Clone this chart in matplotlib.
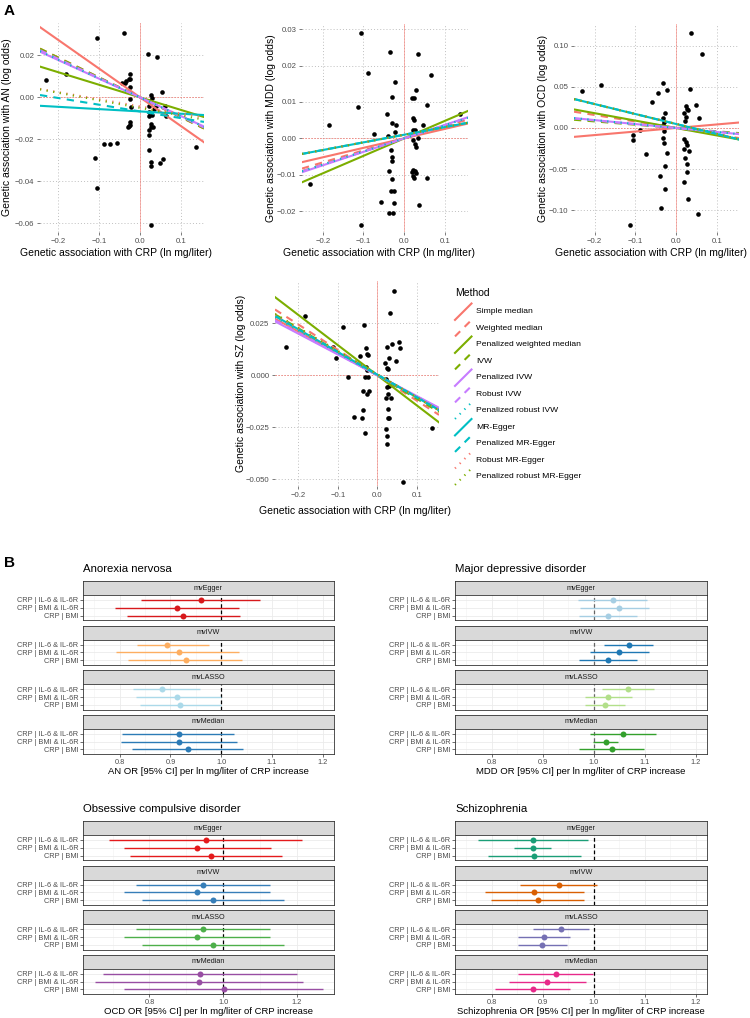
import matplotlib
matplotlib.use("Agg")
import matplotlib.pyplot as plt
import numpy as np
from matplotlib.lines import Line2D

plt.rcParams['font.family'] = ['Liberation Sans', 'DejaVu Sans']
plt.rcParams['axes.unicode_minus'] = True

# ------------------------------------------------------------------ DATA
methods = ["Simple median", "Weighted median", "Penalized weighted median", "IVW",
           "Penalized IVW", "Robust IVW", "Penalized robust IVW", "MR-Egger",
           "Penalized MR-Egger", "Robust MR-Egger", "Penalized robust MR-Egger"]
method_colors = ["#F8766D", "#F8766D", "#7CAE00", "#7CAE00", "#C77CFF", "#C77CFF",
                 "#00BFC4", "#00BFC4", "#00BFC4", "#F8766D", "#7CAE00"]
method_styles = ["solid", "dashed", "solid", "dashed", "solid", "dashed",
                 "dotted", "solid", "dashed", "dotted", "dotted"]

# AN
an_x = [-0.104, -0.039, -0.229, -0.181, 0.019, 0.041, 0.054, -0.043, -0.037, -0.034, -0.028,
        -0.025, -0.025, -0.024, -0.024, -0.021, -0.030, -0.025, -0.024, -0.028, 0.027, 0.028,
        0.024, 0.023, 0.023, 0.029, 0.022, 0.026, 0.027, 0.032, 0.023, 0.023, 0.023, 0.026,
        0.026, 0.048, 0.057, 0.034, 0.039, 0.061, 0.063, -0.111, -0.105, -0.087, -0.073,
        -0.057, 0.137, 0.026]
an_y = [0.0281, 0.0305, 0.0081, 0.0112, 0.0206, 0.0193, 0.0027, 0.0070, 0.0067, 0.0078, 0.0087,
        0.0111, 0.0086, 0.0048, -0.0007, -0.0045, -0.0140, -0.0116, -0.0133, -0.0137, 0.0011, -0.0005,
        -0.0018, -0.0043, -0.0071, -0.0084, -0.0088, -0.0127, -0.0140, -0.0140, -0.0156, -0.0178, -0.0251, -0.0310,
        -0.0329, -0.0311, -0.0292, -0.0056, -0.0041, -0.0041, -0.0089, -0.0288, -0.0430, -0.0222, -0.0222,
        -0.0219, -0.0235, -0.0608]
an_slope = [-0.137, -0.095, -0.060, -0.095, -0.089, -0.092, -0.090, -0.011, -0.032, -0.034, -0.036]
an_int = [0, 0, 0, 0, 0, 0, 0, -0.0067, -0.0067, -0.0043, -0.0050]

# MDD
mdd_x = [-0.106, -0.034, -0.088, -0.023, 0.033, 0.065, 0.029, -0.029, 0.019, 0.025, -0.113,
         0.057, -0.043, -0.184, -0.030, -0.021, 0.047, 0.137, -0.074, -0.039, -0.023, 0.022,
         0.025, 0.021, 0.027, 0.034, 0.022, 0.026, 0.028, -0.032, -0.029, -0.031, -0.037,
         0.021, 0.027, 0.028, 0.019, 0.021, 0.025, 0.055, -0.232, -0.029, -0.033, -0.025,
         -0.058, -0.025, -0.037, -0.027, 0.037, -0.106]
mdd_y = [0.0288, 0.0236, 0.0180, 0.0154, 0.0231, 0.0175, 0.0133, 0.0114, 0.0112, 0.0110, 0.0087,
         0.0093, 0.0066, 0.0037, 0.0043, 0.0038, 0.0037, 0.0067, 0.0013, 0.0006, 0.0018, 0.0055,
         0.0050, 0.0023, 0.0023, 0.0002, -0.0005, -0.0016, -0.0023, -0.0032, -0.0050, -0.0062, -0.0090,
         -0.0087, -0.0089, -0.0096, -0.0093, -0.0103, -0.0108, -0.0110, -0.0126, -0.0112, -0.0144, -0.0144,
         -0.0176, -0.0178, -0.0204, -0.0204, -0.0184, -0.0238]
mdd_slope = [0.026, 0.033, 0.048, 0.036, 0.037, 0.036, 0.036, 0.021, 0.021, 0.021, 0.021]
mdd_int = [0, 0, 0, 0, 0, 0, 0, 0.001, 0.001, 0.001, 0.001]

# OCD
ocd_x = [-0.232, -0.185, -0.106, -0.106, -0.089, -0.075, -0.058, -0.044, -0.032, -0.023, -0.027,
         -0.031, -0.029, -0.033, -0.029, -0.031, -0.029, -0.023, -0.027, -0.039, -0.027, -0.037,
         -0.113, 0.036, 0.065, 0.034, 0.048, 0.057, 0.025, 0.026, 0.030, 0.020, 0.024, 0.022,
         0.020, 0.024, 0.026, 0.020, 0.031, 0.022, 0.026, 0.026, 0.020, 0.029, 0.055]
ocd_y = [0.0454, 0.0519, -0.0085, -0.0146, -0.0024, -0.0320, 0.0320, 0.0422, 0.0543, 0.0462, 0.0186,
         0.0118, 0.0077, 0.0036, -0.0032, -0.0126, -0.0178, -0.0308, -0.0462, -0.0584, -0.0742, -0.0977,
         -0.1180, 0.1152, 0.0896, 0.0479, 0.0280, 0.0125, 0.0268, 0.0227, 0.0219, 0.0186, 0.0130, 0.0089,
         -0.0138, -0.0166, -0.0207, -0.0259, -0.0280, -0.0361, -0.0438, -0.0539, -0.0661, -0.0864, -0.1050]
ocd_slope = [0.043, -0.079, -0.090, -0.040, -0.048, -0.046, -0.048, -0.121, -0.121, -0.120, -0.120]
ocd_int = [0, 0, 0, 0, 0, 0, 0, 0.0049, 0.0049, 0.0050, 0.0050]

# SZ
sz_x = [-0.231, -0.182, -0.088, -0.113, -0.105, -0.074, -0.034, -0.029, -0.027, -0.043, -0.023,
        -0.029, -0.027, -0.030, -0.023, -0.037, -0.020, -0.025, -0.036, -0.039, -0.058, -0.032,
        0.041, 0.031, 0.025, 0.036, 0.056, 0.057, 0.030, 0.048, 0.019, 0.025, 0.028, 0.021,
        0.024, 0.030, 0.027, 0.035, 0.021, 0.026, 0.027, 0.029, 0.023, 0.024, 0.025, 0.138, 0.066]
sz_y = [0.0138, 0.0285, 0.0234, 0.0138, 0.0085, -0.0007, 0.0242, 0.0130, 0.0102, 0.0094, 0.0097,
        0.0041, 0.0025, -0.0007, -0.0010, -0.0075, -0.0075, -0.0091, -0.0167, -0.0204, -0.0199, -0.0276,
        0.0407, 0.0298, 0.0138, 0.0149, 0.0159, 0.0130, 0.0082, 0.0069, 0.0058, 0.0037, 0.0029, -0.0019,
        -0.0055, -0.0050, -0.0091, -0.0111, -0.0111, -0.0163, -0.0207, -0.0207, -0.0258, -0.0290, -0.0330, -0.0252, -0.0514]
sz_slope = [-0.105, -0.122, -0.145, -0.113, -0.100, -0.102, -0.108, -0.109, -0.109, -0.110, -0.112]
sz_int = [0, 0, 0, 0, 0, 0, 0, 0.0003, 0.0003, 0.0005, 0.0005]

scatter_xticks = [-0.2, -0.1, 0.0, 0.1]
scatter_xticklabels = ["\u22120.2", "\u22120.1", "0.0", "0.1"]
an_yticks = [0.02, 0.0, -0.02, -0.04, -0.06]
an_yticklabels = ["0.02", "0.00", "\u22120.02", "\u22120.04", "\u22120.06"]
mdd_yticks = [0.03, 0.02, 0.01, 0.0, -0.01, -0.02]
mdd_yticklabels = ["0.03", "0.02", "0.01", "0.00", "\u22120.01", "\u22120.02"]
ocd_yticks = [0.10, 0.05, 0.0, -0.05, -0.10]
ocd_yticklabels = ["0.10", "0.05", "0.00", "\u22120.05", "\u22120.10"]
sz_yticks = [0.025, 0.0, -0.025, -0.050]
sz_yticklabels = ["0.025", "0.000", "\u22120.025", "\u22120.050"]

# Forest plots (rows: CRP | IL-6 & IL-6R, CRP | BMI & IL-6R, CRP | BMI)
facets = ["mvEgger", "mvIVW", "mvLASSO", "mvMedian"]
row_labels = ["CRP | IL-6 & IL-6R", "CRP | BMI & IL-6R", "CRP | BMI"]

an_est = [[0.960, 0.913, 0.925], [0.893, 0.916, 0.930], [0.883, 0.914, 0.919], [0.916, 0.916, 0.934]]
an_lo = [[0.842, 0.791, 0.814], [0.834, 0.793, 0.816], [0.826, 0.833, 0.841], [0.805, 0.803, 0.824]]
an_hi = [[1.076, 1.035, 1.036], [0.976, 1.035, 1.040], [0.959, 0.999, 0.999], [1.025, 1.032, 1.043]]
an_colors = ["#D7191C", "#FDAE61", "#ABD9E9", "#2C7BB6"]

mdd_est = [[1.037, 1.050, 1.027], [1.068, 1.050, 1.027], [1.066, 1.027, 1.021], [1.057, 1.024, 1.035]]
mdd_lo = [[0.969, 0.973, 0.971], [1.019, 0.992, 0.970], [1.016, 0.982, 0.982], [0.993, 0.999, 0.971]]
mdd_hi = [[1.105, 1.108, 1.084], [1.116, 1.109, 1.084], [1.117, 1.075, 1.061], [1.122, 1.047, 1.099]]
mdd_colors = ["#A6CEE3", "#1F78B4", "#B2DF8A", "#33A02C"]

ocd_est = [[0.952, 0.929, 0.966], [0.946, 0.930, 0.973], [0.946, 0.930, 0.973], [0.937, 0.933, 1.001]]
ocd_lo = [[0.690, 0.730, 0.747], [0.764, 0.732, 0.781], [0.764, 0.732, 0.781], [0.673, 0.652, 0.730]]
ocd_hi = [[1.213, 1.130, 1.160], [1.128, 1.128, 1.165], [1.128, 1.128, 1.165], [1.201, 1.216, 1.271]]
ocd_colors = ["#E41A1C", "#377EB8", "#4DAF4A", "#984EA3"]

sz_est = [[0.880, 0.880, 0.883], [0.931, 0.883, 0.890], [0.935, 0.903, 0.899], [0.926, 0.908, 0.880]]
sz_lo = [[0.772, 0.844, 0.792], [0.856, 0.786, 0.799], [0.880, 0.852, 0.851], [0.852, 0.833, 0.805]]
sz_hi = [[0.988, 0.916, 0.975], [1.007, 0.981, 0.981], [0.990, 0.954, 0.948], [0.999, 0.984, 0.954]]
sz_colors = ["#1B9E77", "#D95F02", "#7570B3", "#E7298A"]

# ------------------------------------------------------------------ FIGURE
W, H = 750, 1018
fig = plt.figure(figsize=(W / 100, H / 100), dpi=100)


def px_axes(l, t, r, b, **kw):
    return fig.add_axes([l / W, 1 - b / H, (r - l) / W, (b - t) / H], **kw)


def ftext(x, y, s, **kw):
    return fig.text(x / W, 1 - y / H, s, **kw)


def lsty(name):
    if name == "dashed":
        return (0, (3.5, 3.0))
    if name == "dotted":
        return (0, (0.6, 2.6))
    return "solid"


GREY30 = "#4D4D4D"


def scatter_panel(box, x, y, slopes, ints, xlim, ylim, yticks, yticklabels, ylabel,
                  ylab_px, xlab_cx, xlab_cy):
    l, t, r, b = box
    ax = px_axes(l, t, r, b)
    ax.set_xlim(xlim)
    ax.set_ylim(ylim)
    for s in ax.spines.values():
        s.set_visible(False)
    ax.set_xticks(scatter_xticks)
    ax.set_xticklabels(scatter_xticklabels)
    ax.set_yticks(yticks)
    ax.set_yticklabels(yticklabels)
    ax.grid(True, linestyle=(0, (1, 2.2)), color="#BFBFBF", lw=0.7)
    ax.set_axisbelow(True)
    ax.tick_params(length=2.5, width=0.6, color="#666666", labelsize=5.6,
                   labelcolor=GREY30, pad=1.5)
    ax.axhline(0, color="#F8766D", lw=0.7, ls=(0, (1.5, 1.5)), alpha=0.8, zorder=1)
    ax.axvline(0, color="#F8766D", lw=0.7, alpha=0.55, zorder=1)
    ax.scatter(x, y, s=11, c="black", linewidths=0, zorder=2)
    for m in range(len(methods)):
        ax.axline((0, ints[m]), slope=slopes[m], color=method_colors[m], lw=1.5,
                  ls=lsty(method_styles[m]), zorder=3)
    ax.set_xlabel("Genetic association with CRP (ln mg/liter)", fontsize=7.5)
    ax.set_ylabel(ylabel, fontsize=7.5)
    ax.yaxis.set_label_coords((ylab_px - l) / (r - l), 0.5)
    ax.xaxis.set_label_coords((xlab_cx - l) / (r - l), -(xlab_cy - b) / (b - t))
    ax.xaxis.label.set_va("center")
    ax.yaxis.label.set_va("center")
    return ax


axA1 = scatter_panel((40, 23, 204, 232), an_x, an_y, an_slope, an_int,
                     (-0.244, 0.156), (-0.0641, 0.0354), an_yticks, an_yticklabels,
                     "Genetic association with AN (log odds)", 7, 116, 253)
axA2 = scatter_panel((302, 24, 468, 232), mdd_x, mdd_y, mdd_slope, mdd_int,
                     (-0.251, 0.157), (-0.0257, 0.0314), mdd_yticks, mdd_yticklabels,
                     "Genetic association with MDD (log odds)", 271, 379, 253)
axA3 = scatter_panel((574, 24, 739, 232), ocd_x, ocd_y, ocd_slope, ocd_int,
                     (-0.251, 0.155), (-0.1265, 0.1265), ocd_yticks, ocd_yticklabels,
                     "Genetic association with OCD (log odds)", 543, 651, 253)
axA4 = scatter_panel((275, 281, 439, 486), sz_x, sz_y, sz_slope, sz_int,
                     (-0.259, 0.156), (-0.0532, 0.0453), sz_yticks, sz_yticklabels,
                     "Genetic association with SZ (log odds)", 241, 355, 511)

# overlay for legend and panel letters
ov = fig.add_axes([0, 0, 1, 1], zorder=10)
ov.set_xlim(0, W)
ov.set_ylim(H, 0)
ov.axis("off")
ov.patch.set_alpha(0)

ftext(4, 11, "A", fontsize=11, fontweight="bold", va="center", ha="left")
ftext(4, 563, "B", fontsize=11, fontweight="bold", va="center", ha="left")

ftext(455, 293, "Method", fontsize=7.5, va="center", ha="left")
for i, m in enumerate(methods):
    yc = 311.7 + 16.5 * i
    ov.add_line(Line2D([455, 471.5], [yc + 8.2, yc - 8.2], color=method_colors[i], lw=1.5,
                       ls=lsty(method_styles[i])))
    ftext(476.5, yc, m, fontsize=6.1, va="center", ha="left")


# ------------------------------------------------------------------ FOREST
def forest(left, right, top0, title, xlabel, est, lo, hi, colors, xlim, xticks, xticklabels,
           minor, refcolor, xl_y):
    ftext(left, top0 - 11.5, title, fontsize=8.2, va="center", ha="left")
    ypos = [3, 2, 1]
    for i, facet in enumerate(facets):
        st = top0 + i * 44.6
        sax = px_axes(left, st, right, st + 14.2)
        sax.set_facecolor("#D9D9D9")
        sax.set_xticks([])
        sax.set_yticks([])
        for s in sax.spines.values():
            s.set_color("#333333")
            s.set_linewidth(0.6)
        sax.text(0.5, 0.5, facet, ha="center", va="center", fontsize=5.2, color="#1A1A1A",
                 transform=sax.transAxes)
        pax = px_axes(left, st + 14.2, right, st + 39.4)
        pax.set_xlim(xlim)
        pax.set_ylim(0.4, 3.6)
        for s in pax.spines.values():
            s.set_color("#333333")
            s.set_linewidth(0.6)
        pax.set_xticks(xticks)
        pax.set_xticks(minor, minor=True)
        pax.set_yticks(ypos)
        pax.set_yticklabels(row_labels)
        pax.grid(True, which="major", color="#EBEBEB", lw=0.6)
        pax.grid(True, which="minor", axis="x", color="#F2F2F2", lw=0.4)
        pax.set_axisbelow(True)
        pax.tick_params(which="major", length=2, width=0.5, color="#333333", labelsize=5.3,
                        labelcolor=GREY30, pad=1.2)
        pax.tick_params(which="minor", length=0)
        pax.axvline(1.0, color=refcolor, lw=0.9, ls=(0, (3, 2)), zorder=2)
        for j in range(3):
            pax.plot([lo[i][j], hi[i][j]], [ypos[j], ypos[j]], color=colors[i], lw=1.0,
                     solid_capstyle="butt", zorder=3)
            pax.plot([est[i][j]], [ypos[j]], "o", color=colors[i], ms=4.3, mew=0, zorder=4)
        if i < 3:
            pax.set_xticklabels([])
            pax.tick_params(axis="x", length=0)
        else:
            pax.set_xticklabels(xticklabels)
            pax.set_xlabel(xlabel, fontsize=6.8)
            b = st + 39.4
            pax.xaxis.set_label_coords(0.5, -(xl_y - b) / 25.2)
            pax.xaxis.label.set_va("center")


std_ticks = [0.8, 0.9, 1.0, 1.1, 1.2]
std_ticklabels = ["0.8", "0.9", "1.0", "1.1", "1.2"]
std_minor = [0.75, 0.85, 0.95, 1.05, 1.15]
ocd_ticks = [0.8, 1.0, 1.2]
ocd_ticklabels = ["0.8", "1.0", "1.2"]
ocd_minor = [0.7, 0.9, 1.1, 1.3]

forest(82.7, 334.3, 581, "Anorexia nervosa", "AN OR [95% CI] per ln mg/liter of CRP increase",
       an_est, an_lo, an_hi, an_colors, (0.7275, 1.2225), std_ticks, std_ticklabels, std_minor,
       "black", 771.7)
forest(455, 707.3, 581, "Major depressive disorder", "MDD OR [95% CI] per ln mg/liter of CRP increase",
       mdd_est, mdd_lo, mdd_hi, mdd_colors, (0.7275, 1.2225), std_ticks, std_ticklabels, std_minor,
       "#666666", 771.7)
forest(82.7, 334.3, 821, "Obsessive compulsive disorder", "OCD OR [95% CI] per ln mg/liter of CRP increase",
       ocd_est, ocd_lo, ocd_hi, ocd_colors, (0.619, 1.301), ocd_ticks, ocd_ticklabels, ocd_minor,
       "black", 1011)
forest(455, 707.3, 821, "Schizophrenia", "Schizophrenia OR [95% CI] per ln mg/liter of CRP increase",
       sz_est, sz_lo, sz_hi, sz_colors, (0.7275, 1.2225), std_ticks, std_ticklabels, std_minor,
       "black", 1011)

fig.savefig("out.png", dpi=100)
